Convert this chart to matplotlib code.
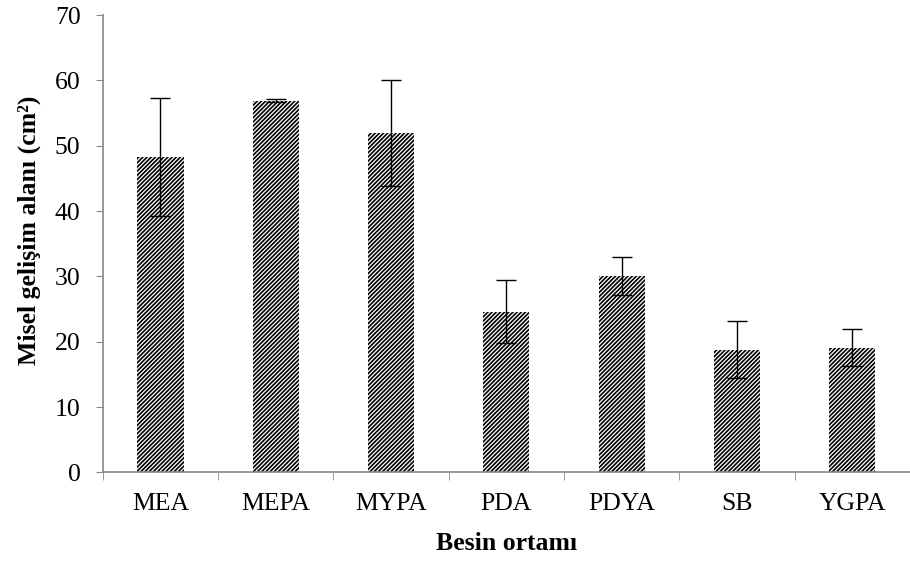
import numpy as np
import matplotlib.pyplot as plt

# Misel gelişim alanı by nutrient medium
media = ['MEA', 'MEPA', 'MYPA', 'PDA', 'PDYA', 'SB', 'YGPA']
area = [48.3, 56.9, 52.0, 24.6, 30.0, 18.8, 19.1]
err = [9.0, 0.2, 8.1, 4.8, 2.9, 4.4, 2.8]

plt.rcParams['font.family'] = 'Liberation Serif'
plt.rcParams['hatch.linewidth'] = 1.2

fig = plt.figure(figsize=(9.1, 5.61), dpi=100)
ax = fig.add_axes([0.113, 0.158, 0.887, 0.815])

x = np.arange(len(media))
ax.bar(x, area, width=0.4, color='white', edgecolor='black', linewidth=0,
       hatch='////////')
ax.errorbar(x, area, yerr=err, fmt='none', ecolor='black', elinewidth=1,
            capsize=7, capthick=1)

ax.set_xlim(-0.5, len(media) - 0.5)
ax.set_ylim(0, 70)
ax.set_yticks(range(0, 71, 10))
ax.set_xticks(x)
ax.set_xticklabels(media)
ax.set_xticks(np.arange(-0.5, len(media) - 0.5), minor=True)
ax.tick_params(axis='x', which='major', length=0, pad=15, labelsize=18.5)
ax.tick_params(axis='x', which='minor', length=6, direction='out', color='#888888')
ax.tick_params(axis='y', length=5, color='#888888', pad=11, labelsize=18.5)

for s in ['top', 'right']:
    ax.spines[s].set_visible(False)
for s in ['left', 'bottom']:
    ax.spines[s].set_color('#888888')
    ax.spines[s].set_linewidth(1.2)

ax.set_ylabel('Misel gelişim alanı (cm²)', fontsize=18.5, fontweight='bold', labelpad=10)
ax.yaxis.label.set_y(0.53)
ax.set_xlabel('Besin ortamı', fontsize=18.5, fontweight='bold', labelpad=12)

fig.savefig('out.png', dpi=100)
